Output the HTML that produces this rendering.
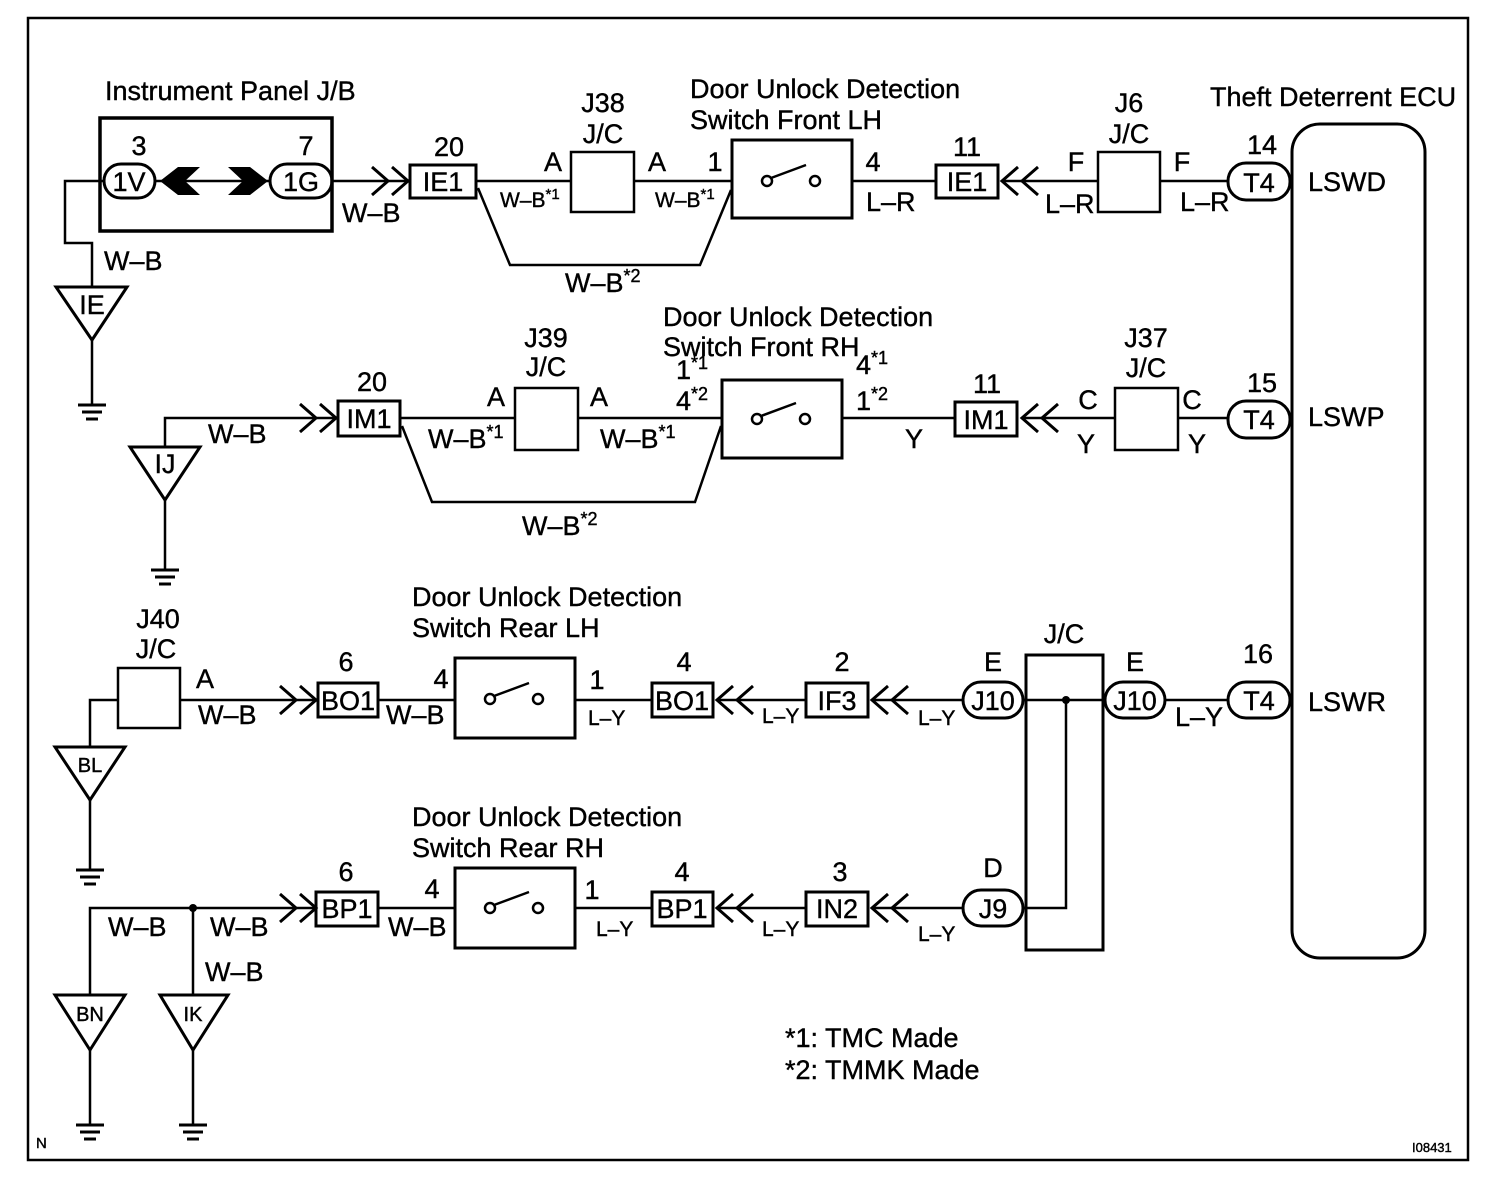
<!DOCTYPE html>
<html><head><meta charset="utf-8"><style>
body{margin:0;background:#fff}
svg{display:block}
text{font-family:"Liberation Sans",Arial,sans-serif;font-size:27px;fill:#000;stroke:#000;stroke-width:0.4}
.s{font-size:21px}
.c{text-anchor:middle}
</style></head><body>
<svg width="1504" height="1192" viewBox="0 0 1504 1192" xmlns="http://www.w3.org/2000/svg">
<g fill="none" stroke="#000" stroke-width="2.5">
<rect x="28" y="18" width="1440" height="1142"/>
<rect x="1292" y="124" width="133" height="834" rx="28" stroke-width="3"/>
<rect x="100" y="118" width="232" height="113" stroke-width="3.5"/>
<rect x="104" y="164" width="51" height="34" rx="17" stroke-width="3"/>
<rect x="270" y="164" width="62" height="34" rx="17" stroke-width="3"/>
<line x1="155" y1="181" x2="270" y2="181"/>
<polyline points="104,181 65,181 65,243 92,243 92,287"/>
<polygon points="56,287 127,287 92,340" stroke-width="3"/>
<polyline points="92,340 92,405"/>
<line x1="332" y1="181" x2="408" y2="181"/>
<polyline points="372,167 388,181 372,195" stroke-width="3"/>
<polyline points="392,167 408,181 392,195" stroke-width="3"/>
<rect x="410" y="165" width="66" height="33" stroke-width="3"/>
<line x1="476" y1="181" x2="571" y2="181"/>
<rect x="571" y="152" width="63" height="60"/>
<line x1="634" y1="181" x2="732" y2="181"/>
<polyline points="478,188 510,265 700,265 731,190"/>
<rect x="732" y="140" width="120" height="78" stroke-width="3"/>
<line x1="852" y1="181" x2="936" y2="181"/>
<rect x="936" y="165" width="62" height="33" stroke-width="3"/>
<polyline points="1018,167 1002,181 1018,195" stroke-width="3"/>
<polyline points="1038,167 1022,181 1038,195" stroke-width="3"/>
<line x1="1002" y1="181" x2="1098" y2="181"/>
<rect x="1098" y="152" width="62" height="60"/>
<line x1="1160" y1="181" x2="1228" y2="181"/>
<rect x="1228" y="163" width="62" height="37" rx="18" stroke-width="3"/>
<polygon points="130,447 200,447 165,500" stroke-width="3"/>
<polyline points="165,447 165,418 336,418"/>
<polyline points="165,500 165,570"/>
<polyline points="300,404 316,418 300,432" stroke-width="3"/>
<polyline points="320,404 336,418 320,432" stroke-width="3"/>
<rect x="338" y="401" width="62" height="35" stroke-width="3"/>
<line x1="400" y1="418" x2="515" y2="418"/>
<rect x="515" y="388" width="63" height="62"/>
<line x1="578" y1="418" x2="722" y2="418"/>
<polyline points="402,426 432,502 695,502 721,426"/>
<rect x="722" y="380" width="120" height="78" stroke-width="3"/>
<line x1="842" y1="418" x2="955" y2="418"/>
<rect x="955" y="402" width="62" height="34" stroke-width="3"/>
<polyline points="1038,404 1022,418 1038,432" stroke-width="3"/>
<polyline points="1058,404 1042,418 1058,432" stroke-width="3"/>
<line x1="1022" y1="418" x2="1115" y2="418"/>
<rect x="1115" y="388" width="63" height="62"/>
<line x1="1178" y1="418" x2="1228" y2="418"/>
<rect x="1228" y="401" width="62" height="37" rx="18" stroke-width="3"/>
<rect x="118" y="668" width="62" height="60"/>
<polyline points="118,700 90,700 90,747"/>
<polygon points="55,747 125,747 90,800" stroke-width="3"/>
<polyline points="90,800 90,870"/>
<line x1="180" y1="700" x2="316" y2="700"/>
<polyline points="280,686 296,700 280,714" stroke-width="3"/>
<polyline points="300,686 316,700 300,714" stroke-width="3"/>
<rect x="318" y="683" width="60" height="34" stroke-width="3"/>
<line x1="378" y1="700" x2="455" y2="700"/>
<rect x="455" y="658" width="120" height="80" stroke-width="3"/>
<line x1="575" y1="700" x2="652" y2="700"/>
<rect x="652" y="683" width="61" height="34" stroke-width="3"/>
<polyline points="733,686 717,700 733,714" stroke-width="3"/>
<polyline points="753,686 737,700 753,714" stroke-width="3"/>
<line x1="717" y1="700" x2="806" y2="700"/>
<rect x="806" y="683" width="62" height="34" stroke-width="3"/>
<polyline points="888,686 872,700 888,714" stroke-width="3"/>
<polyline points="908,686 892,700 908,714" stroke-width="3"/>
<line x1="872" y1="700" x2="963" y2="700"/>
<rect x="963" y="682" width="60" height="36" rx="18" stroke-width="3"/>
<rect x="1026" y="655" width="77" height="295" stroke-width="3"/>
<line x1="1023" y1="700" x2="1105" y2="700"/>
<polyline points="1066,700 1066,908 1023,908"/>
<rect x="1105" y="682" width="60" height="36" rx="18" stroke-width="3"/>
<line x1="1165" y1="700" x2="1228" y2="700"/>
<rect x="1228" y="682" width="62" height="36" rx="18" stroke-width="3"/>
<polyline points="90,995 90,908 316,908"/>
<line x1="193" y1="908" x2="193" y2="995"/>
<polygon points="55,995 125,995 90,1050" stroke-width="3"/>
<polygon points="160,995 228,995 193,1050" stroke-width="3"/>
<line x1="90" y1="1050" x2="90" y2="1125"/>
<line x1="193" y1="1050" x2="193" y2="1125"/>
<polyline points="280,894 296,908 280,922" stroke-width="3"/>
<polyline points="300,894 316,908 300,922" stroke-width="3"/>
<rect x="316" y="892" width="62" height="34" stroke-width="3"/>
<line x1="378" y1="908" x2="455" y2="908"/>
<rect x="455" y="868" width="120" height="80" stroke-width="3"/>
<line x1="575" y1="908" x2="652" y2="908"/>
<rect x="652" y="892" width="61" height="34" stroke-width="3"/>
<polyline points="733,894 717,908 733,922" stroke-width="3"/>
<polyline points="753,894 737,908 753,922" stroke-width="3"/>
<line x1="717" y1="908" x2="806" y2="908"/>
<rect x="806" y="892" width="62" height="34" stroke-width="3"/>
<polyline points="888,894 872,908 888,922" stroke-width="3"/>
<polyline points="908,894 892,908 908,922" stroke-width="3"/>
<line x1="872" y1="908" x2="963" y2="908"/>
<rect x="963" y="890" width="60" height="36" rx="18" stroke-width="3"/>
<g>
<circle cx="767" cy="181" r="5"/><circle cx="815" cy="181" r="5"/><line x1="771" y1="178" x2="806" y2="165"/>
<circle cx="757" cy="419" r="5"/><circle cx="805" cy="419" r="5"/><line x1="761" y1="416" x2="796" y2="403"/>
<circle cx="490" cy="699" r="5"/><circle cx="538" cy="699" r="5"/><line x1="494" y1="696" x2="529" y2="683"/>
<circle cx="490" cy="908" r="5"/><circle cx="538" cy="908" r="5"/><line x1="494" y1="905" x2="529" y2="892"/>
</g>
<g stroke-width="3">
<line x1="78" y1="405" x2="106" y2="405"/><line x1="82" y1="412" x2="102" y2="412"/><line x1="86" y1="419" x2="98" y2="419"/>
<line x1="151" y1="570" x2="179" y2="570"/><line x1="155" y1="577" x2="175" y2="577"/><line x1="159" y1="584" x2="171" y2="584"/>
<line x1="76" y1="870" x2="104" y2="870"/><line x1="80" y1="877" x2="100" y2="877"/><line x1="84" y1="884" x2="96" y2="884"/>
<line x1="76" y1="1125" x2="104" y2="1125"/><line x1="80" y1="1132" x2="100" y2="1132"/><line x1="84" y1="1139" x2="96" y2="1139"/>
<line x1="179" y1="1125" x2="207" y2="1125"/><line x1="183" y1="1132" x2="203" y2="1132"/><line x1="187" y1="1139" x2="199" y2="1139"/>
</g>
</g>
<g fill="#000">
<polygon points="160,181 178,167 200,167 185,181 200,195 178,195"/>
<polygon points="268,181 250,167 228,167 243,181 228,195 250,195"/>
<circle cx="1066" cy="700" r="4"/>
<circle cx="193" cy="908" r="4"/>
</g>
<text x="105" y="100">Instrument Panel J/B</text>
<text x="139" y="155" class="c">3</text><text x="306" y="155" class="c">7</text>
<text x="129" y="191" class="c">1V</text><text x="301" y="191" class="c">1G</text>
<text x="104" y="270">W–B</text>
<text x="92" y="314" class="c">IE</text>
<text x="342" y="222">W–B</text>
<text x="449" y="156" class="c">20</text><text x="443" y="191" class="c">IE1</text>
<text x="603" y="112" class="c">J38</text><text x="603" y="143" class="c">J/C</text>
<text x="553" y="171" class="c">A</text><text x="657" y="171" class="c">A</text>
<text x="500" y="207" class="s">W–B<tspan dy="-8" font-size="15">*1</tspan></text>
<text x="655" y="207" class="s">W–B<tspan dy="-8" font-size="15">*1</tspan></text>
<text x="715" y="171" class="c">1</text>
<text x="565" y="292">W–B<tspan dy="-10" font-size="18">*2</tspan></text>
<text x="690" y="98">Door Unlock Detection</text><text x="690" y="129">Switch Front LH</text>
<text x="873" y="171" class="c">4</text><text x="866" y="211">L–R</text>
<text x="967" y="156" class="c">11</text><text x="967" y="191" class="c">IE1</text>
<text x="1076" y="171" class="c">F</text><text x="1045" y="213">L–R</text>
<text x="1129" y="112" class="c">J6</text><text x="1129" y="143" class="c">J/C</text>
<text x="1182" y="171" class="c">F</text><text x="1180" y="211">L–R</text>
<text x="1262" y="154" class="c">14</text><text x="1259" y="192" class="c">T4</text>
<text x="1210" y="106">Theft Deterrent ECU</text>
<text x="1308" y="191">LSWD</text>
<text x="165" y="473" class="c">IJ</text>
<text x="208" y="443">W–B</text>
<text x="372" y="391" class="c">20</text><text x="369" y="428" class="c">IM1</text>
<text x="546" y="347" class="c">J39</text><text x="546" y="376" class="c">J/C</text>
<text x="496" y="406" class="c">A</text><text x="599" y="406" class="c">A</text>
<text x="428" y="448">W–B<tspan dy="-10" font-size="18">*1</tspan></text>
<text x="600" y="448">W–B<tspan dy="-10" font-size="18">*1</tspan></text>
<text x="522" y="535">W–B<tspan dy="-10" font-size="18">*2</tspan></text>
<text x="663" y="326">Door Unlock Detection</text><text x="663" y="356">Switch Front RH</text>
<text x="676" y="379">1<tspan dy="-10" font-size="18">*1</tspan></text>
<text x="676" y="410">4<tspan dy="-10" font-size="18">*2</tspan></text>
<text x="856" y="374">4<tspan dy="-10" font-size="18">*1</tspan></text>
<text x="856" y="410">1<tspan dy="-10" font-size="18">*2</tspan></text>
<text x="905" y="448">Y</text>
<text x="987" y="393" class="c">11</text><text x="986" y="429" class="c">IM1</text>
<text x="1088" y="409" class="c">C</text><text x="1086" y="453" class="c">Y</text>
<text x="1146" y="347" class="c">J37</text><text x="1146" y="377" class="c">J/C</text>
<text x="1192" y="409" class="c">C</text><text x="1197" y="453" class="c">Y</text>
<text x="1262" y="392" class="c">15</text><text x="1259" y="429" class="c">T4</text>
<text x="1308" y="426">LSWP</text>
<text x="158" y="628" class="c">J40</text><text x="156" y="658" class="c">J/C</text>
<text x="205" y="688" class="c">A</text><text x="198" y="724">W–B</text>
<text x="90" y="772" class="c" style="font-size:20px">BL</text>
<text x="346" y="671" class="c">6</text><text x="348" y="710" class="c">BO1</text>
<text x="441" y="688" class="c">4</text><text x="386" y="724">W–B</text>
<text x="412" y="606">Door Unlock Detection</text><text x="412" y="637">Switch Rear LH</text>
<text x="597" y="689" class="c">1</text><text x="588" y="725" class="s">L–Y</text>
<text x="684" y="671" class="c">4</text><text x="682" y="710" class="c">BO1</text>
<text x="762" y="723" class="s">L–Y</text>
<text x="842" y="671" class="c">2</text><text x="837" y="710" class="c">IF3</text>
<text x="918" y="725" class="s">L–Y</text>
<text x="993" y="671" class="c">E</text><text x="993" y="710" class="c">J10</text>
<text x="1064" y="643" class="c">J/C</text>
<text x="1135" y="671" class="c">E</text><text x="1135" y="710" class="c">J10</text>
<text x="1175" y="726">L–Y</text>
<text x="1258" y="663" class="c">16</text><text x="1259" y="710" class="c">T4</text>
<text x="1308" y="711">LSWR</text>
<text x="108" y="936">W–B</text><text x="210" y="936">W–B</text><text x="205" y="981">W–B</text>
<text x="90" y="1021" class="c" style="font-size:20px">BN</text>
<text x="193" y="1021" class="c" style="font-size:20px">IK</text>
<text x="346" y="881" class="c">6</text><text x="347" y="918" class="c">BP1</text>
<text x="432" y="898" class="c">4</text><text x="388" y="936">W–B</text>
<text x="412" y="826">Door Unlock Detection</text><text x="412" y="857">Switch Rear RH</text>
<text x="592" y="899" class="c">1</text><text x="596" y="936" class="s">L–Y</text>
<text x="682" y="881" class="c">4</text><text x="682" y="918" class="c">BP1</text>
<text x="762" y="936" class="s">L–Y</text>
<text x="840" y="881" class="c">3</text><text x="837" y="918" class="c">IN2</text>
<text x="918" y="941" class="s">L–Y</text>
<text x="993" y="877" class="c">D</text><text x="993" y="918" class="c">J9</text>
<text x="785" y="1047">*1: TMC Made</text>
<text x="785" y="1079">*2: TMMK Made</text>
<text x="36" y="1148" style="font-size:15px">N</text>
<text x="1412" y="1152" style="font-size:13px">I08431</text>
</svg>
</body></html>
